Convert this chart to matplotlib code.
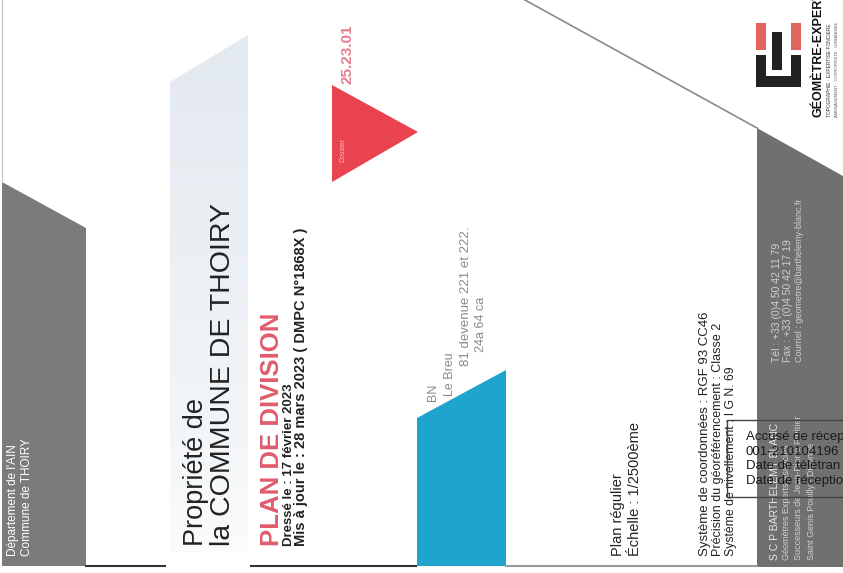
import numpy as np
import matplotlib
matplotlib.use("Agg")
import matplotlib.pyplot as plt
from matplotlib.patches import Polygon, Rectangle

plt.rcParams['font.family'] = ['Liberation Sans', 'DejaVu Sans']

W, H = 843, 573

# bandes et formes (coordonnees de la page scannee, y vers le bas)
bande_gauche = [(2, 182), (86, 228), (86, 566), (2, 566)]
bande_claire = [(170, 82), (248, 35), (248, 552), (170, 552)]
bande_bleue = [(417, 418), (506, 370), (506, 566), (417, 566)]
triangle_rouge = [(332, 85), (418, 132), (332, 182)]
bande_droite = [(757, 128), (843, 176), (843, 567), (757, 567)]
diagonale_x = [525, 757]
diagonale_y = [0, 128]

# logo geometre-expert : (x, y, largeur, hauteur, couleur)
logo_blocs = [(756, 23, 10, 27, '#e0655e'), (791, 23, 10, 27, '#e0655e'),
              (772, 32, 10, 38, '#222222'), (756, 55, 10, 32, '#222222'),
              (791, 55, 10, 32, '#222222'), (756, 76, 45, 11, '#222222')]

# traits du bas
traits_x = [(86, 165), (251, 416), (506, 757)]
traits_couleur = ['#333333', '#333333', '#9a9a9a']

# textes verticaux : (x ligne de base, y bas, texte, taille, couleur, graisse)
textes = [
    (16, 556, "Département de l'AIN", 8.5, 'white', 'normal'),
    (30, 556, "Commune de THOIRY", 8.5, 'white', 'normal'),
    (203, 546, "Propriété de", 19.5, '#222222', 'normal'),
    (230, 546, "la COMMUNE DE THOIRY", 20.5, '#222222', 'normal'),
    (279, 546, "PLAN DE DIVISION", 18.5, '#e05c6e', 'bold'),
    (292, 546, "Dressé le : 17 février 2023", 9.5, '#222222', 'bold'),
    (305, 546, "Mis à jour le : 28 mars 2023 ( DMPC N°1868X )", 10.5, '#222222', 'bold'),
    (351, 84, "25.23.01", 11, '#e57f90', 'bold'),
    (344, 162, "Dossier", 5, '#f7c0c4', 'normal'),
    (436, 401, "BN", 9, '#8a8a8a', 'normal'),
    (453, 396, "Le Breu", 9, '#8a8a8a', 'normal'),
    (469, 366, "81 devenue 221 et 222.", 9.5, '#8a8a8a', 'normal'),
    (484, 352, "24a 64 ca", 9, '#8a8a8a', 'normal'),
    (622, 556, "Plan régulier", 10.5, '#222222', 'normal'),
    (639, 556, "Échelle : 1/2500ème", 10.5, '#222222', 'normal'),
    (708, 556, "Système de coordonnées : RGF 93 CC46", 9.5, '#222222', 'normal'),
    (721, 556, "Précision du géoréférencement : Classe 2", 9, '#222222', 'normal'),
    (734, 556, "Système de nivellement : I G N. 69", 8.8, '#222222', 'normal'),
    (778, 560, "S C P BARTHELEMY BLANC", 7.5, '#e8e8e8', 'normal'),
    (789, 560, "Géomètres Experts Associés", 6.5, '#d0d0d0', 'normal'),
    (801, 560, "Successeurs de Jean-Pierre Fruitier", 6.5, '#d0d0d0', 'normal'),
    (814, 560, "Saint Genis Pouilly - Divonne", 6.5, '#d0d0d0', 'normal'),
    (780, 362, "Tél : +33 (0)4 50 42 11 79", 7.5, '#d0d0d0', 'normal'),
    (791, 362, "Fax : +33 (0)4 50 42 17 19", 7.5, '#d0d0d0', 'normal'),
    (802, 362, "Courriel : geometre@barthelemy-blanc.fr", 6.5, '#d0d0d0', 'normal'),
    (822, 117, "GÉOMÈTRE-EXPERT", 9, '#111111', 'bold'),
    (831, 117, "TOPOGRAPHIE · EXPERTISE FONCIERE", 3.5, '#333333', 'normal'),
    (838, 117, "AMENAGEMENT · COPROPRIETE · URBANISME", 3.0, '#555555', 'normal'),
]

# tampon d'accuse de reception (horizontal)
tampon_lignes = ["Accusé de récep", "001-210104196", "Date de télétran", "Date de réceptio"]
tampon_y = [437, 452, 466, 481]
tampon_cadre = (727, 420, 130, 77)

fig = plt.figure(figsize=(W / 100, H / 100), dpi=100)
ax = fig.add_axes([0, 0, 1, 1])
ax.axis('off')
fig.patch.set_facecolor('white')

# filet gris a gauche
ax.plot([2, 2], [0, 182], color='#c8c8c8', lw=1)

ax.add_patch(Polygon(bande_gauche, closed=True, color='#7b7b7b', lw=0))

# bande claire en degrade
poly_clair = Polygon(bande_claire, closed=True, facecolor='none', edgecolor='none')
ax.add_patch(poly_clair)
grad = np.linspace(1, 0, 256)
rgba = np.zeros((256, 1, 4))
rgba[:, 0, 0] = 0.89
rgba[:, 0, 1] = 0.915
rgba[:, 0, 2] = 0.94
rgba[:, 0, 3] = 0.15 + 0.85 * grad ** 0.8
im = ax.imshow(rgba, extent=(170, 248, 552, 35), aspect='auto', zorder=1)
im.set_clip_path(poly_clair)

ax.add_patch(Polygon(triangle_rouge, closed=True, color='#e8434f', lw=0))
ax.add_patch(Polygon(bande_bleue, closed=True, color='#1ea4cd', lw=0))
ax.add_patch(Polygon(bande_droite, closed=True, color='#707070', lw=0))
ax.plot(diagonale_x, diagonale_y, color='#8a8a8a', lw=1.2)

for x, y, w, h, c in logo_blocs:
    ax.add_patch(Rectangle((x, y), w, h, color=c, lw=0))

for (x0, x1), c in zip(traits_x, traits_couleur):
    ax.plot([x0, x1], [566, 566], color=c, lw=1.5)

for x, y, s, fs, c, fw in textes:
    ax.text(x, y, s, rotation=90, rotation_mode='anchor', ha='left', va='baseline',
            fontsize=fs, color=c, fontweight=fw, zorder=5)

cx, cy, cw, ch = tampon_cadre
ax.add_patch(Rectangle((cx, cy), cw, ch, fill=False, edgecolor='#444444', lw=1, zorder=6))
for s, y in zip(tampon_lignes, tampon_y):
    ax.text(746, y, s, fontsize=9.5, color='#1a1a1a', va='center', ha='left', zorder=7)

ax.set_xlim(0, W)
ax.set_ylim(H, 0)

fig.savefig('out.png', dpi=100)
